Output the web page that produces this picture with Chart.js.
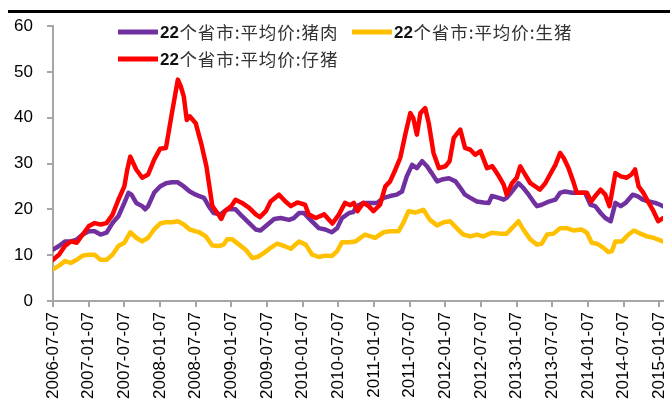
<!DOCTYPE html>
<html><head><meta charset="utf-8">
<script src="https://cdn.jsdelivr.net/npm/chart.js@4/dist/chart.umd.min.js"></script>
<style>html,body{margin:0;padding:0;background:#fff}#wrap{width:670px;height:405px;position:relative}</style>
</head><body><div id="wrap"><canvas id="c" width="670" height="405"></canvas></div>
<script>
// x values are months elapsed since 2006-07-07
const tickMonths = [0,6,12,18,24,30,36,42,48,54,60,66,72,78,84,90,96,102];
const tickLabels = ['2006-07-07','2007-01-07','2007-07-07','2008-01-07','2008-07-07','2009-01-07','2009-07-07','2010-01-07','2010-07-07','2011-01-07','2011-07-07','2012-01-07','2012-07-07','2013-01-07','2013-07-07','2014-01-07','2014-07-07','2015-01-07'];

const porkLabel = '22个省市:平均价:猪肉';
const hogLabel = '22个省市:平均价:生猪';
const pigletLabel = '22个省市:平均价:仔猪';

const porkMonths = [0,1,2,3,4,5,6,7,8,9,10,11,12,12.7,13.2,14,15,15.5,16,17,18,19,20,21,22,23,24,24.6,25.4,26.2,27,28.2,29.3,30.7,31.8,33,34.1,34.9,36.1,37.2,38.3,39.7,40.5,41.4,42.2,43.3,44.7,45.8,46.9,47.8,48.6,49.8,50.5,51.1,52.2,53.4,54.5,55.6,56.7,57.8,58.7,59.5,60.4,61.2,62.1,62.9,63.7,64.6,65.4,66.6,67.7,68.5,69.3,70.2,71.3,72.4,73.3,73.8,75,75.8,76.3,77.2,78.3,79.1,80,80.8,81.4,82.2,83.4,84.5,85.3,86.1,87.3,88.4,89.5,90.4,91.2,92.1,92.9,93.8,94.6,95.5,96.3,97.5,98.3,99.2,100.2,101.3,102.1,102.6];
const porkValues = [11.2,12,13,13,13.4,14.5,15.2,15.2,14.5,14.9,17,18.5,21.4,23.6,23.2,21.4,20.7,20,20.7,23.6,25,25.7,25.9,25.9,25,23.9,23.2,22.9,22.5,20.7,19.2,18.9,20,20,18.5,17,15.6,15.4,16.7,17.9,18.1,17.7,18.1,19.2,19.2,17.7,15.9,15.6,15,15.9,18.1,19.2,19.4,20.7,21.4,21.4,21.4,22.5,22.9,23.2,23.9,27.2,29.7,29,30.5,29.4,27.9,26.1,26.5,26.8,26.1,24.7,23.2,22.5,21.7,21.5,21.4,22.9,22.5,22.1,22.5,23.9,25.7,24.7,23.2,21.7,20.7,21,21.7,22.1,23.6,23.9,23.6,23.6,23.6,21,20.7,19.2,18.1,17.4,21.4,20.7,21.4,23.2,22.9,22.1,21.7,21.4,21,20.7];

const hogMonths = [0,1,2,3,4,5,6,7,8,9,10,11,12,13,14,15,16,17,18,19,20,21,22,23,24,24.6,25.7,26.8,27.9,28.7,29.3,30.1,31.3,32.4,33.5,34.4,35.5,36.6,37.7,38.9,40,41.4,42.5,43.6,44.7,45.8,46.9,47.8,48.6,49.8,50.9,52.5,53.4,54.2,55.6,56.7,58.1,58.9,59.8,60.9,62.3,63.4,64.6,65.7,66.8,67.9,69,70.2,71.3,72.4,73.8,75.2,76.3,77.5,78.3,79.1,80.3,81.4,82.2,83.1,84.2,85.3,86.4,87.5,88.9,89.8,90.6,91.5,92.6,93.4,94,94.6,95.7,96.8,97.7,98.8,99.9,101,101.8,102.6];
const hogValues = [6.9,7.7,8.7,8.3,9.0,9.9,10.1,10.1,9.0,9.0,10.1,12,12.7,15,13.8,13,13.8,15.6,16.9,17.2,17.2,17.4,16.7,15.6,15.2,15,14.1,12.1,12,12.3,13.5,13.5,12.3,11.2,9.4,9.6,10.5,11.6,12.5,12,11.4,13,12.3,10.1,9.6,9.9,9.8,10.9,12.8,12.8,13,14.5,14.1,13.8,15,15.2,15.2,17,19.6,19.3,19.9,17.7,16.5,17.2,17.4,15.9,14.5,14.1,14.5,14.1,14.9,14.7,14.7,16.3,17.4,15.6,13.4,12.3,12.5,14.5,14.7,15.9,15.9,15.4,15.6,14.9,12.7,12.5,11.6,10.7,10.9,13,13,14.5,15.4,14.7,14.1,13.8,13.4,13];

const pigletMonths = [0,1,2,3,4,5,6,7,8,9,10,11,12,12.5,13,14,15,16,17,18,19,20,21,21.5,22,22.5,23,24,25,25.8,26.8,27.8,28.3,28.9,30,30.7,31.8,33,34.1,34.8,35.8,36.6,38,39.1,40,41.1,42.4,43,44.2,45.6,47,48.1,49.1,50,50.6,51.2,52.2,53.1,53.9,55,55.9,56.7,57.6,58.4,59.3,60.1,60.6,61.2,61.8,62.6,63.2,64,64.9,66,66.7,67.4,68.5,69.3,70.2,71,71.9,73,73.9,75,75.8,76.3,77.2,78,78.6,79.4,80.3,81.1,81.9,82.8,83.6,84.5,85.3,85.9,86.7,87.5,88.1,88.9,89.8,90.5,91.2,92.1,92.9,93.6,94.6,95.5,96.5,97.3,97.9,98.5,99.3,100.2,101,101.8,102.6];
const pigletValues = [9.0,10.1,12.0,13.0,12.7,14.5,16.3,17.0,16.7,17.0,18.8,22.1,25,28.7,31.5,28.7,26.9,27.6,30.8,33.2,33.4,41,48.3,46.8,44.6,39.5,40.3,38.8,34,29.4,20.7,18.9,17.9,19.6,20.7,22.1,21.4,20.3,18.9,18.3,19.6,21.7,23.2,21.7,20.7,21.5,21.0,18.9,18.1,18.9,16.9,18.9,21.4,20.9,21.4,19.6,21.4,20.7,19.6,21,25,26.1,28.7,31.2,36.6,41,39.9,36.3,41,42.1,38.8,32.3,29,29.4,30.5,35.6,37.4,33.4,33,31.9,32.7,29,29.4,27.2,25.4,23.2,25.7,26.9,29.4,27.6,25.7,25,24.3,25.7,27.6,29.7,32.3,31.2,29,26.1,23.6,23.6,23.6,21.7,22.9,24.3,23.2,20.7,27.9,27.2,26.9,27.6,28.7,25,23.6,21.4,19.6,17.4,18.1];

const toPoints = (xs, ys) => xs.map((x, i) => ({x, y: ys[i]}));

const AXIS = '#a6a6a6';
const topRule = {
  id: 'topRule',
  beforeDraw(chart) {
    const ctx = chart.ctx;
    ctx.save();
    ctx.fillStyle = '#000';
    ctx.fillRect(8, 10, 662, 3);
    ctx.restore();
  }
};
const customLegend = {
  id: 'customLegend',
  afterDraw(chart) {
    const ctx = chart.ctx;
    const ds = chart.data.datasets;
    const pos = [[118, 32], [352, 32], [118, 59]];
    ctx.save();
    ctx.textBaseline = 'middle';
    ds.forEach((d, i) => {
      const [x, y] = pos[i];
      ctx.strokeStyle = d.borderColor;
      ctx.lineWidth = 5;
      ctx.lineCap = 'butt';
      ctx.beginPath(); ctx.moveTo(x, y); ctx.lineTo(x + 40, y); ctx.stroke();
      const m = d.label.match(/^(\d+)(.*)$/);
      let tx = x + 42;
      ctx.fillStyle = '#111';
      ctx.font = 'bold 17px "Liberation Sans", sans-serif';
      ctx.fillText(m[1], tx, y + 1);
      tx += ctx.measureText(m[1]).width + 0.5;
      ctx.fillStyle = '#333';
      ctx.font = '17.5px "Noto Sans CJK SC", sans-serif';
      // spread characters to the reference legend width (~158px for the CJK part)
      const chars = Array.from(m[2]);
      const natural = ctx.measureText(m[2]).width;
      const extra = Math.max(0, (158 - natural) / (chars.length - 1));
      chars.forEach(ch => {
        ctx.fillText(ch, tx, y);
        tx += ctx.measureText(ch).width + extra;
      });
    });
    ctx.restore();
  }
};

new Chart(document.getElementById('c'), {
  type: 'line',
  data: {
    datasets: [
      {label: porkLabel, data: toPoints(porkMonths, porkValues), borderColor: '#7030A0', order: 2},
      {label: hogLabel, data: toPoints(hogMonths, hogValues), borderColor: '#FFC000', order: 1},
      {label: pigletLabel, data: toPoints(pigletMonths, pigletValues), borderColor: '#FF0000', order: 0}
    ]
  },
  options: {
    responsive: false,
    animation: false,
    devicePixelRatio: 1,
    layout: {padding: {top: 26, right: 7, left: 0, bottom: 0}},
    elements: {
      line: {borderWidth: 4.5, tension: 0, borderJoinStyle: 'round', borderCapStyle: 'round'},
      point: {radius: 0, hoverRadius: 0}
    },
    plugins: {legend: {display: false}, tooltip: {enabled: false}},
    scales: {
      x: {
        type: 'linear', min: 0, max: 102.6,
        afterBuildTicks: s => { s.ticks = tickMonths.map(v => ({value: v})); },
        afterFit: s => { s.height = 104; s.paddingLeft = 0; s.paddingRight = 0; },
        ticks: {
          autoSkip: false, maxRotation: 90, minRotation: 90, padding: 5,
          color: '#000', font: {family: '"Liberation Sans", sans-serif', size: 17},
          callback: (v, i) => tickLabels[i]
        },
        grid: {display: true, drawOnChartArea: false, drawTicks: true, tickLength: 6, color: AXIS, lineWidth: 2},
        border: {display: true, color: AXIS, width: 2}
      },
      y: {
        min: 0, max: 60,
        afterFit: s => { s.width = 53; },
        ticks: {stepSize: 10, padding: 14, color: '#000', font: {family: '"Liberation Sans", sans-serif', size: 17}},
        grid: {display: true, drawOnChartArea: false, drawTicks: true, tickLength: 6, color: AXIS, lineWidth: 2},
        border: {display: true, color: AXIS, width: 2}
      }
    }
  },
  plugins: [topRule, customLegend]
});
</script>
</body></html>
